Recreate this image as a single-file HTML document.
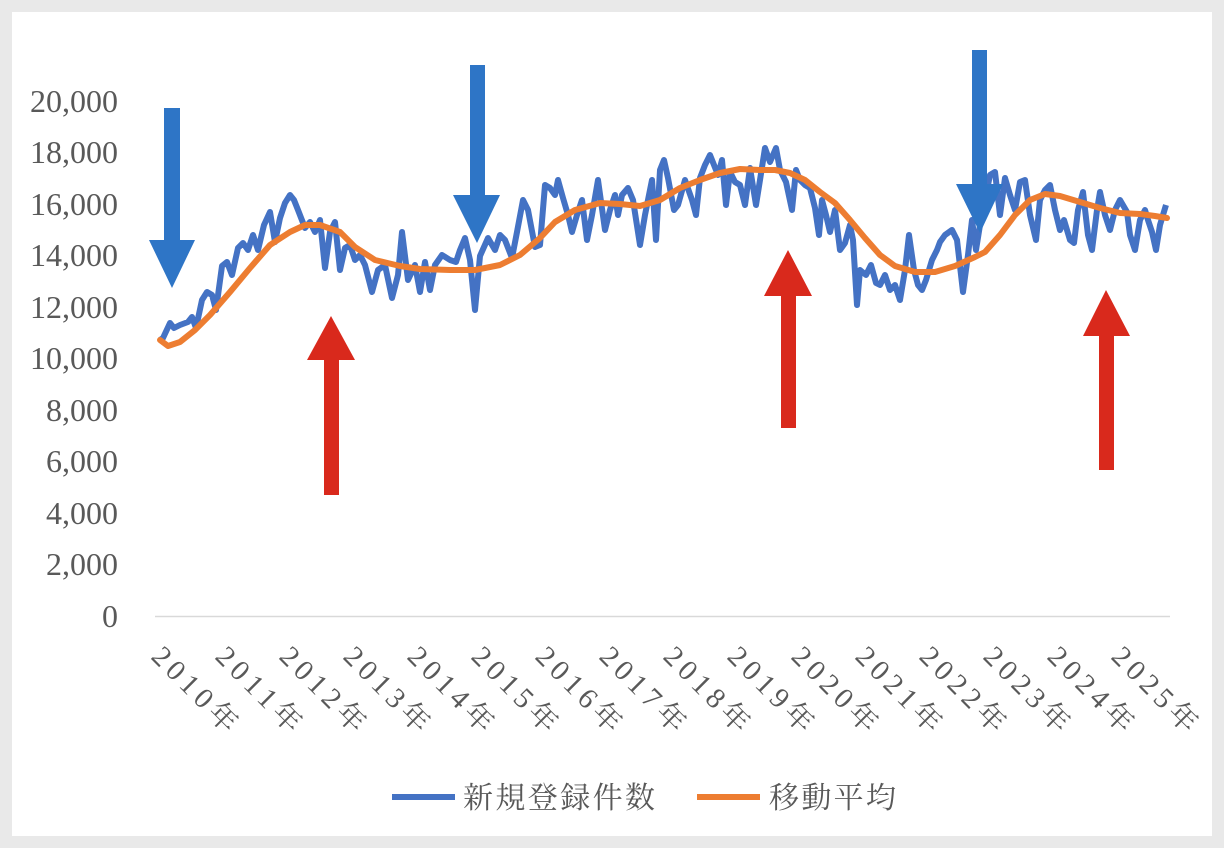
<!DOCTYPE html>
<html><head><meta charset="utf-8"><style>
html,body{margin:0;padding:0;background:#e9e9e9;}
svg{display:block}
</style></head><body>
<svg width="1224" height="848" xmlns="http://www.w3.org/2000/svg">
<rect x="0" y="0" width="1224" height="848" fill="#e9e9e9"/>
<rect x="12" y="12" width="1200" height="824" fill="#fff"/>
<g font-family="'Liberation Serif','Noto Serif CJK JP',serif" font-size="32" fill="#595959" text-anchor="end">
<text x="118" y="627">0</text>
<text x="118" y="575">2,000</text>
<text x="118" y="524">4,000</text>
<text x="118" y="472">6,000</text>
<text x="118" y="421">8,000</text>
<text x="118" y="369">10,000</text>
<text x="118" y="318">12,000</text>
<text x="118" y="266">14,000</text>
<text x="118" y="215">16,000</text>
<text x="118" y="163">18,000</text>
<text x="118" y="112">20,000</text>
</g>
<line x1="155" y1="616.5" x2="1170" y2="616.5" stroke="#d9d9d9" stroke-width="1.5"/>
<g font-family="'Liberation Serif','Noto Serif CJK JP',serif" font-size="29" fill="#595959">
<text transform="translate(150,658) rotate(45)" textLength="108">2010年</text>
<text transform="translate(214,658) rotate(45)" textLength="108">2011年</text>
<text transform="translate(278,658) rotate(45)" textLength="108">2012年</text>
<text transform="translate(342,658) rotate(45)" textLength="108">2013年</text>
<text transform="translate(406,658) rotate(45)" textLength="108">2014年</text>
<text transform="translate(470,658) rotate(45)" textLength="108">2015年</text>
<text transform="translate(534,658) rotate(45)" textLength="108">2016年</text>
<text transform="translate(598,658) rotate(45)" textLength="108">2017年</text>
<text transform="translate(662,658) rotate(45)" textLength="108">2018年</text>
<text transform="translate(726,658) rotate(45)" textLength="108">2019年</text>
<text transform="translate(790,658) rotate(45)" textLength="108">2020年</text>
<text transform="translate(854,658) rotate(45)" textLength="108">2021年</text>
<text transform="translate(918,658) rotate(45)" textLength="108">2022年</text>
<text transform="translate(982,658) rotate(45)" textLength="108">2023年</text>
<text transform="translate(1046,658) rotate(45)" textLength="108">2024年</text>
<text transform="translate(1110,658) rotate(45)" textLength="108">2025年</text>
</g>
<polyline fill="none" stroke="#4472c4" stroke-width="6" stroke-linejoin="round" points="160,340 163,338 170,323 174,328 180,325 188,322 192,317 196,328 202,300 207,292 212,295 216,310 222,266 227,262 232,275 238,248 243,243 248,250 253,235 258,250 264,225 270,212 275,242 280,218 285,203 290,195 294,200 298,210 305,228 310,222 315,232 320,220 325,268 330,232 335,222 340,270 345,248 350,245 355,260 360,255 365,265 372,292 378,270 385,265 392,298 398,275 402,232 408,280 415,265 420,292 425,262 430,290 435,265 442,255 450,260 456,262 460,250 465,238 470,260 475,310 480,256 488,238 495,250 500,235 505,240 512,258 517,232 523,200 528,210 535,247 540,245 545,185 550,188 555,195 558,180 563,198 568,215 572,232 577,215 582,200 587,240 592,215 598,180 605,230 610,210 615,195 618,215 622,195 628,188 633,200 640,245 645,215 652,180 656,240 660,170 664,160 668,178 674,210 678,205 685,180 692,200 696,215 700,178 705,165 710,155 718,175 722,160 726,205 730,172 735,182 740,185 745,205 750,168 756,205 760,180 765,148 770,162 776,148 780,170 786,182 792,210 796,170 800,180 805,185 810,188 815,208 819,235 822,200 826,215 830,232 835,210 840,250 845,243 850,225 853,240 857,305 860,270 866,275 871,265 876,283 880,285 885,275 890,290 895,285 900,300 905,270 909,235 914,270 918,285 922,290 926,280 932,260 937,250 940,242 945,235 952,230 957,240 963,292 968,255 972,220 976,250 980,225 985,200 990,175 995,172 1000,215 1005,178 1010,195 1015,210 1020,182 1025,180 1030,215 1036,240 1040,200 1045,190 1050,185 1055,210 1060,230 1064,220 1070,240 1074,243 1078,210 1083,192 1088,235 1092,250 1097,210 1100,192 1105,215 1110,230 1115,210 1120,200 1127,212 1130,235 1135,250 1140,220 1145,210 1148,220 1152,232 1156,250 1160,225 1166,205"/>
<polyline fill="none" stroke="#ed7d31" stroke-width="6" stroke-linejoin="round" stroke-linecap="round" points="160,340 168,346 180,342 195,330 210,315 230,292 250,268 270,245 290,232 305,225 320,225 340,232 355,247 375,260 400,266 420,269 450,270 475,270 500,265 520,255 540,238 555,222 575,210 600,203 620,204 640,206 660,200 680,188 700,180 720,173 740,169 760,170 775,170 790,173 805,180 820,192 835,203 850,220 865,238 880,255 895,266 915,272 935,272 955,266 975,257 985,252 1000,235 1015,215 1030,200 1045,194 1060,196 1080,202 1100,208 1120,213 1140,214 1155,216 1167,218"/>
<g fill="#2e75c6">
<rect x="164" y="108" width="16" height="134"/><polygon points="149,240 195,240 172,288"/>
<rect x="470" y="65" width="15" height="132"/><polygon points="453,195 500,195 477,243"/>
<rect x="972" y="50" width="15" height="137"/><polygon points="956,184 1003,184 980,233"/>
</g>
<g fill="#d9291c">
<rect x="324" y="358" width="15" height="137"/><polygon points="307,360 355,360 331,316"/>
<rect x="781" y="294" width="15" height="134"/><polygon points="764,296 812,296 788,250"/>
<rect x="1099" y="334" width="15" height="136"/><polygon points="1083,336 1130,336 1106,290"/>
</g>
<line x1="392" y1="797" x2="455" y2="797" stroke="#4472c4" stroke-width="6"/>
<line x1="697" y1="797" x2="760" y2="797" stroke="#ed7d31" stroke-width="6"/>
<g font-family="'Noto Serif CJK JP','Liberation Serif',serif" font-size="30" fill="#595959">
<text x="463" y="808" textLength="192">新規登録件数</text>
<text x="769" y="808" textLength="127">移動平均</text>
</g>
</svg>
</body></html>
